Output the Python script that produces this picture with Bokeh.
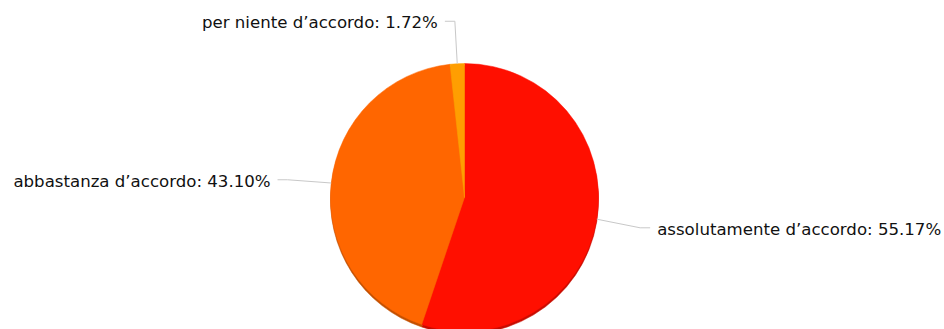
import math
from bokeh.plotting import figure
from bokeh.models import Range1d, ColumnDataSource
from bokeh.core.properties import value
from bokeh.embed import file_html
from bokeh.resources import INLINE

# data
categories = ["assolutamente d’accordo", "abbastanza d’accordo", "per niente d’accordo"]
counts = [32, 25, 1]
colors = ["#FF0F00", "#FF6600", "#FF9E01"]
rim_colors = ["#C80C00", "#C45000", "#C87C01"]

W, H = 944, 329


def sx(x):
    return x


def sy(y):
    return H - y


CX, CY = 464, 197     # screen position of pie center
R = 134               # pie radius (px)
LR = 178              # label line bend radius
HSEG = 10
GAP = 7

p = figure(width=W, height=H, output_backend="svg", toolbar_location=None,
           x_range=Range1d(0, W), y_range=Range1d(0, H), min_border=0)
p.axis.visible = False
p.grid.visible = False
p.outline_line_color = None
p.background_fill_color = "white"

total = sum(counts)
fracs = [c / total for c in counts]
starts, ends, mids = [], [], []
a = math.pi / 2
for f in fracs:
    e = a - f * 2 * math.pi  # clockwise
    starts.append(e)
    ends.append(a)
    mids.append((a + e) / 2)
    a = e

src = ColumnDataSource(dict(start=starts, end=ends, color=colors, rim=rim_colors))

# shadow/rim
p.wedge(x=sx(CX), y=sy(CY + 2.5), radius=R, radius_units="screen",
        start_angle="start", end_angle="end", fill_color="rim", line_color="rim",
        line_width=0.5, source=src)
p.wedge(x=sx(CX), y=sy(CY), radius=R, radius_units="screen",
        start_angle="start", end_angle="end", fill_color="color", line_color="color",
        line_width=0.5, source=src)

for cat, f, m in zip(categories, fracs, mids):
    ex = CX + R * math.cos(m)
    ey = CY - R * math.sin(m)
    bx = CX + LR * math.cos(m)
    by = CY - LR * math.sin(m) + 1.5
    right = math.cos(m) >= 0
    hx = bx + HSEG if right else bx - HSEG
    p.line([sx(ex), sx(bx), sx(hx)], [sy(ey), sy(by), sy(by)],
           line_color="#c8c8c8", line_width=1)
    tx = hx + GAP if right else hx - GAP
    label = f"{cat}: {f * 100:.2f}%"
    p.text(x=[sx(tx)], y=[sy(by + 1.5)], text=[label],
           text_font=value("DejaVu Sans"), text_font_size="16.6px",
           text_color="#111111", text_baseline="middle",
           text_align="left" if right else "right")

open("out.html", "w").write(file_html(p, INLINE))
